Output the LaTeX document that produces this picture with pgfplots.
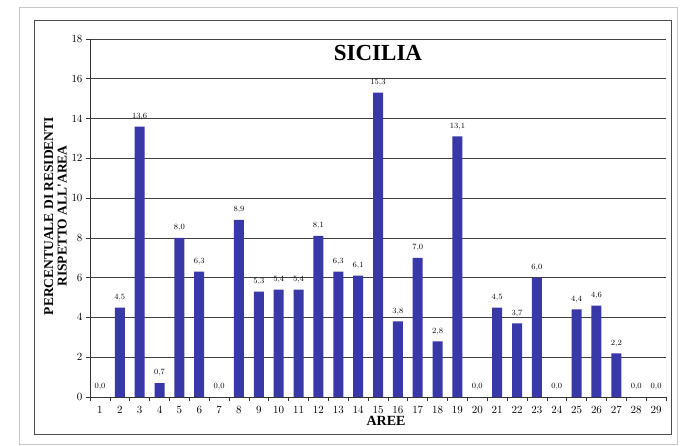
\documentclass[border=0pt]{standalone}
\usepackage{fontspec}
\usepackage{pgfplots}
\pgfplotsset{compat=1.18}
\newfontfamily\lib{Liberation Serif}
\definecolor{barblue}{RGB}{56,56,168}

\begin{document}
\begin{tikzpicture}
\path[use as bounding box] (0pt,0pt) rectangle (686pt,-445pt);
% frames round the chart
\draw[black!22, line width=1pt] (19pt,-7pt) rectangle (677pt,-444pt);
\draw[black!70, line width=1pt] (34pt,-20pt) rectangle (671pt,-434pt);

\begin{axis}[
at={(90pt,-397pt)}, anchor=south west,
scale only axis,
width=576pt, height=358pt,
xmin=0.5, xmax=29.5,
ymin=0, ymax=18,
ybar, bar width=10pt,
axis lines=left,
axis line style={-, black!80, line width=0.8pt},
tick align=outside,
xtick={1,...,29},
minor xtick={0.5,1.5,...,29.5},
ytick={0,2,...,18},
major x tick style={draw=none},
minor x tick style={black!80, line width=0.6pt},
ytick style={black!80, line width=0.6pt},
major tick length=4pt,
minor tick length=4pt,
ymajorgrids,
y grid style={black!75, line width=0.6pt},
ticklabel style={font=\fontsize{10.5}{12}\selectfont},
xticklabel style={yshift=-1.5pt},
nodes near coords={\pgfmathprintnumber[fixed,fixed zerofill,precision=1,use comma]{\pgfplotspointmeta}},
nodes near coords style={font=\fontsize{8.5}{9}\selectfont, yshift=3pt},
]
\addplot [draw=none, fill=barblue] coordinates {
(1,0) (2,4.5) (3,13.6) (4,0.7) (5,8.0) (6,6.3) (7,0) (8,8.9) (9,5.3) (10,5.4)
(11,5.4) (12,8.1) (13,6.3) (14,6.1) (15,15.3) (16,3.8) (17,7.0) (18,2.8) (19,13.1) (20,0)
(21,4.5) (22,3.7) (23,6.0) (24,0) (25,4.4) (26,4.6) (27,2.2) (28,0) (29,0)
};
\draw[black!30, line width=0.8pt] (rel axis cs:1,0) -- (rel axis cs:1,1);
\node[font=\lib\bfseries\fontsize{23}{26}\selectfont] at (axis cs:15,17.3) {SICILIA};
\end{axis}

\node[rotate=90, align=center, font=\lib\bfseries\fontsize{13.5}{13.5}\selectfont]
  at (55.5pt,-216pt) {PERCENTUALE DI RESIDENTI\\RISPETTO ALL'AREA};
\node[font=\lib\bfseries\fontsize{14}{14}\selectfont] at (386pt,-421pt) {AREE};
\end{tikzpicture}
\end{document}
